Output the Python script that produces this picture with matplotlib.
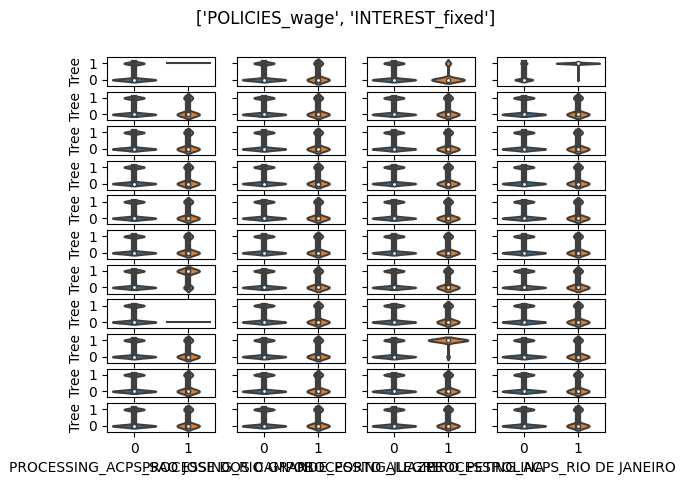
import numpy as np
import matplotlib
matplotlib.use("Agg")
import matplotlib.pyplot as plt
import seaborn as sns

title = "['POLICIES_wage', 'INTEREST_fixed']"
columns = ["PROCESSING_ACPS_SAO JOSE DOS CAMPOS",
           "PROCESSING_RIO GRANDE_PORTO ALEGRE",
           "PROCESSING_JUAZEIRO_PETROLINA",
           "PROCESSING_ACPS_RIO DE JANEIRO"]
groups = ["0", "1"]
n_rows = 11
ylabel = "Tree"

# counts of Tree==0 / Tree==1 for group "0" (blue) and group "1" (orange), per (row, column)
blue_n0 = [[13300] * 4 for _ in range(n_rows)]
blue_n1 = [[6200] * 4 for _ in range(n_rows)]
orange_n0 = [[350] * 4 for _ in range(n_rows)]
orange_n1 = [[140] * 4 for _ in range(n_rows)]

# the odd ones out
orange_n0[0][0], orange_n1[0][0] = 0, 6
orange_n0[0][2], orange_n1[0][2] = 260, 40
blue_n0[0][3], blue_n1[0][3] = 15300, 5400
orange_n0[0][3], orange_n1[0][3] = 30, 1470
orange_n0[6][0], orange_n1[6][0] = 140, 350
orange_n0[7][0], orange_n1[7][0] = 6, 0
orange_n0[8][2], orange_n1[8][2] = 5, 80

palette = [sns.desaturate("#1f77b4", .75), sns.desaturate("#ff7f0e", .75)]
gray = "#3f3f3f"
lw = 1.5
width = 0.8


def kde(n0, n1, cut=2, gridsize=100):
    n = n0 + n1
    p1 = n1 / n
    if n0 == 0 or n1 == 0:
        return None
    std = np.sqrt(p1 * (1 - p1) * n / (n - 1))
    bw = std * n ** (-1 / 5)
    support = np.linspace(-cut * bw, 1 + cut * bw, gridsize)
    g = lambda m: np.exp(-0.5 * ((support - m) / bw) ** 2) / (bw * np.sqrt(2 * np.pi))
    return support, (n0 / n) * g(0) + (n1 / n) * g(1)


def draw_violins(ax, counts):
    curves = [kde(*c) for c in counts]
    peak = max(sd[1].max() for sd in curves if sd is not None)
    for i, (c, sd) in enumerate(zip(counts, curves)):
        data = np.repeat([0, 1], c)
        if sd is None:
            # single value -> flat line
            ax.plot([i - width / 2, i + width / 2], [data[0]] * 2, color=gray, lw=lw)
            continue
        support, dens = sd
        half = dens / peak * width / 2
        ax.fill_betweenx(support, i - half, i + half, facecolor=palette[i],
                         edgecolor=gray, lw=lw)
        q25, q50, q75 = np.percentile(data, [25, 50, 75])
        iqr = q75 - q25
        h1 = data[data >= q25 - 1.5 * iqr].min()
        h2 = data[data <= q75 + 1.5 * iqr].max()
        ax.plot([i, i], [h1, h2], color=gray, lw=lw)
        ax.plot([i, i], [q25, q75], color=gray, lw=lw * 3)
        ax.scatter(i, q50, zorder=3, color="white", edgecolor=gray, s=np.square(lw * 2))


fig, axes = plt.subplots(n_rows, 4, sharex=True, sharey=True, figsize=(6.85, 4.8), dpi=100)
fig.subplots_adjust(left=107 / 685, right=605 / 685, top=1 - 57 / 480, bottom=1 - 432 / 480,
                    wspace=0.2, hspace=0.2)

for r in range(n_rows):
    for c in range(4):
        ax = axes[r][c]
        draw_violins(ax, [(blue_n0[r][c], blue_n1[r][c]), (orange_n0[r][c], orange_n1[r][c])])
        ax.set_xlim(-0.5, 1.5)
        ax.set_ylim(-0.37, 1.38)
        ax.set_xticks([0, 1], groups)
        ax.set_yticks([0, 1])
        if r == n_rows - 1:
            ax.set_xlabel(columns[c])
        if c == 0:
            ax.set_ylabel(ylabel)

fig.suptitle(title, x=0.505)
fig.savefig("out.png", dpi=100)
